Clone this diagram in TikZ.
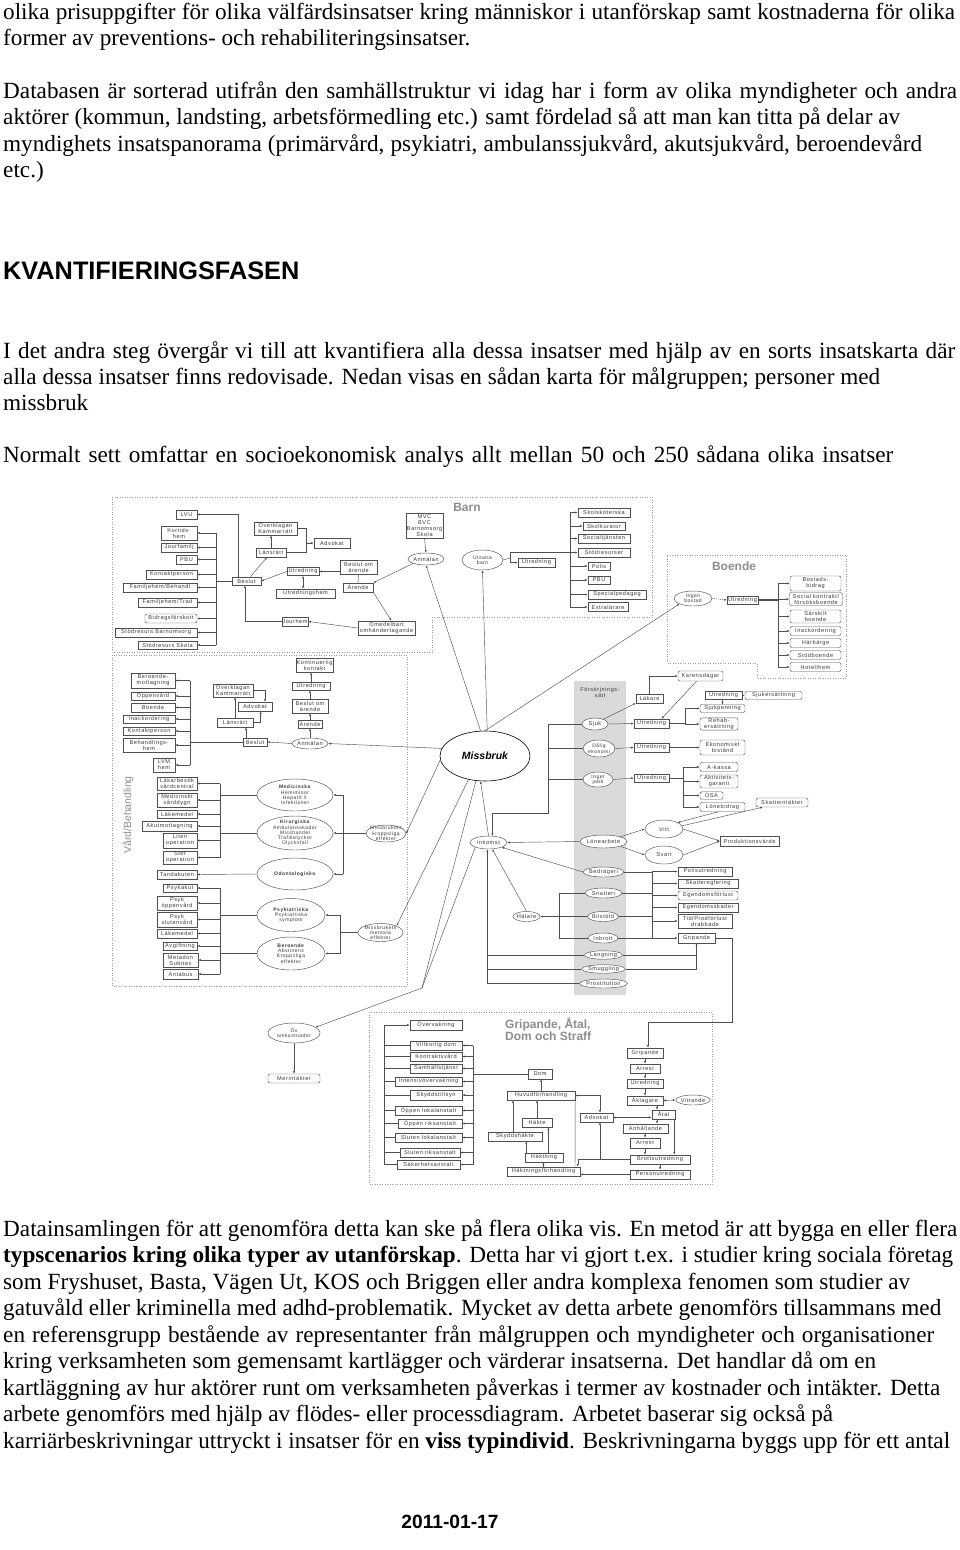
\documentclass[tikz,border=0pt]{standalone}
\usepackage{fontspec}
\setmainfont{Liberation Serif}
\newfontfamily\arialf{Liberation Sans}
\newfontfamily\dfont[LetterSpace=10]{Liberation Sans}
\usetikzlibrary{arrows.meta,shapes.geometric}
\definecolor{lc}{HTML}{505050}
\definecolor{tc}{HTML}{3A3A3A}
\definecolor{ttl}{HTML}{8E8E8E}
\definecolor{gcol}{HTML}{DADADA}
\definecolor{pan}{HTML}{9A9A9A}
\newcommand{\linefit}[2]{\makebox[#1pt][s]{#2}}
\tikzset{
  bw/.style={minimum width=#1pt},
  bh/.style={minimum height=#1pt},
  box/.style={draw=lc, line width=0.45pt, fill=white, inner sep=0.5pt, text=tc, align=center, font=\dfont\fontsize{5.6}{6}\selectfont},
  rbox/.style={box, rounded corners=2pt},
  ell/.style={box, ellipse, inner sep=0pt},
  lbl/.style={text=tc, align=center, inner sep=0pt, font=\dfont\fontsize{5}{5.3}\selectfont},
  ln/.style={draw=lc, line width=0.45pt},
  arr/.style={ln, -{Latex[length=2.6pt,width=2pt]}},
  arrb/.style={ln, {Latex[length=2.6pt,width=2pt]}-{Latex[length=2.6pt,width=2pt]}},
  panel/.style={draw=pan, line width=0.5pt, dotted},
  body/.style={anchor=base west, inner sep=0pt, font=\fontsize{23.2}{26}\selectfont},
  head/.style={anchor=base west, inner sep=0pt, font=\arialf\bfseries\fontsize{25.3}{25}\selectfont},
  ttlf/.style={text=ttl, inner sep=0pt, font=\arialf\bfseries\fontsize{12}{10.5}\selectfont},
}
\begin{document}
\begin{tikzpicture}[x=1pt,y=-1pt]
\useasboundingbox (0,0) rectangle (960,1550);
\fill[white] (0,0) rectangle (960,1550);

% ---------------- body text ----------------
\node[body] (t1) at (3,19) {\linefit{952}{olika prisuppgifter för olika välfärdsinsatser kring människor i utanförskap samt kostnaderna för olika}};
\node[body] (t2) at (3,45) {former av preventions- och rehabiliteringsinsatser.};
\node[body] (t3) at (3,98) {\linefit{954}{Databasen är sorterad utifrån den samhällstruktur vi idag har i form av olika myndigheter och andra}};
\node[body] (t4) at (3,124) {\linefit{897}{aktörer (kommun, landsting, arbetsförmedling etc.) samt fördelad så att man kan titta på delar av}};
\node[body] (t5) at (3,151) {\linefit{919}{myndighets insatspanorama (primärvård, psykiatri, ambulanssjukvård, akutsjukvård, beroendevård}};
\node[body] (t6) at (3,177) {etc.)};
\node[head] (t7) at (3,279) {KVANTIFIERINGSFASEN};
\node[body] (t8) at (3,358) {\linefit{952}{I det andra steg övergår vi till att kvantifiera alla dessa insatser med hjälp av en sorts insatskarta där}};
\node[body] (t9) at (3,384) {\linefit{877}{alla dessa insatser finns redovisade. Nedan visas en sådan karta för målgruppen; personer med}};
\node[body] (t10) at (3,410) {missbruk};
\node[body] (t11) at (3,462) {\linefit{890}{Normalt sett omfattar en socioekonomisk analys allt mellan 50 och 250 sådana olika insatser}};

\node[body] (b1) at (3,1236) {\linefit{954}{Datainsamlingen för att genomföra detta kan ske på flera olika vis. En metod är att bygga en eller flera}};
\node[body] (b2) at (3,1262) {\linefit{950}{\textbf{typscenarios kring olika typer av utanförskap}. Detta har vi gjort t.ex. i studier kring sociala företag}};
\node[body] (b3) at (3,1289) {\linefit{907}{som Fryshuset, Basta, Vägen Ut, KOS och Briggen eller andra komplexa fenomen som studier av}};
\node[body] (b4) at (3,1315) {\linefit{938}{gatuvåld eller kriminella med adhd-problematik. Mycket av detta arbete genomförs tillsammans med}};
\node[body] (b5) at (3,1342) {\linefit{931}{en referensgrupp bestående av representanter från målgruppen och myndigheter och organisationer}};
\node[body] (b6) at (3,1368) {\linefit{873}{kring verksamheten som gemensamt kartlägger och värderar insatserna. Det handlar då om en}};
\node[body] (b7) at (3,1395) {\linefit{937}{kartläggning av hur aktörer runt om verksamheten påverkas i termer av kostnader och intäkter. Detta}};
\node[body] (b8) at (3,1421) {\linefit{830}{arbete genomförs med hjälp av flödes- eller processdiagram. Arbetet baserar sig också på}};
\node[body] (b9) at (3,1448) {\linefit{947}{karriärbeskrivningar uttryckt i insatser för en \textbf{viss typindivid}. Beskrivningarna byggs upp för ett antal}};
\node[anchor=base, inner sep=0pt, font=\arialf\bfseries\fontsize{19.2}{19}\selectfont] (date) at (450,1528) {2011-01-17};

% ---------------- panels ----------------
\draw[panel] (112,497) -- (652,497) -- (652,617) -- (432,617) -- (432,652) -- (112,652) -- cycle;
\draw[panel] (112,655) rectangle (407,986);
\draw[panel] (667,555) -- (846,555) -- (846,678) -- (757,678) -- (757,663) -- (667,663) -- cycle;
\draw[panel] (369,1012) rectangle (712,1184);
\fill[gcol] (574,681) rectangle (626,995);

\node[ttlf] (barn) at (467,507) {Barn};
\node[ttlf] (boendet) at (734,566) {Boende};
\node[ttlf, anchor=west, align=left] (gtitle) at (505,1029) {Gripande, Åtal,\\Dom och Straff};
\node[text=ttl, rotate=90, font=\arialf\fontsize{10.5}{10.5}\selectfont, inner sep=0pt] (vard) at (128,815) {Vård/Behandling};
\node[inner sep=0pt, text=tc, font=\dfont\fontsize{5.6}{6}\selectfont, align=center] (fors) at (600,692) {Försörjnings-\\sätt};

% ---------------- Barn panel ----------------
\node[box,bw=21,bh=9] (lvu) at (186.5,514.5) {LVU};
\node[box,bw=36,bh=14] (kort) at (179,533) {Kortids-\\hem};
\node[box,bw=36,bh=9] (jourf) at (179,547.5) {Jourfamilj};
\node[box,bw=21,bh=9] (pbu1) at (186.5,559.5) {PBU};
\node[box,bw=51,bh=9] (kontakt1) at (171.5,574.5) {Kontaktperson};
\node[box,bw=74,bh=9] (famb) at (160,587.5) {Familjehem/Behandl};
\node[box,bw=59,bh=9] (famt) at (167.5,602.5) {Familjehem/Trad};
\node[rbox,bw=52,bh=9] (bidrag) at (171,618.5) {Bidragsförskott};
\node[box,bw=82,bh=9] (stodb) at (156,632.5) {Stödresurs Barnomsorg};
\node[box,bw=59,bh=8.5] (stods) at (167.5,645) {Stödresurs Skola};
\node[box,bw=29,bh=8.5] (beslut1) at (246.5,581) {Beslut};
\node[box,bw=30,bh=9] (lans1) at (271,552.5) {Länsrätt};
\node[box,bw=43,bh=13] (overk1) at (275.5,528.5) {Överklagan\\Kammarrätt};
\node[box,bw=36,bh=10] (advokat1) at (332,543) {Advokat};
\node[box,bw=32,bh=8] (utr1) at (303,571.5) {Utredning};
\node[box,bw=59,bh=9] (utrhem) at (305.5,593.5) {Utredningshem};
\node[box,bw=37,bh=14] (beslutom1) at (358.5,567) {Beslut om\\ärende};
\node[box,bw=30,bh=9] (arende1) at (358,587.5) {Ärende};
\node[ell,bw=32,bh=12] (anm1) at (426,559) {Anmälan};
\node[box,bw=35,bh=25] (mvc) at (424.5,525.5) {MVC\\BVC\\Barnomsorg\\Skola};
\node[box,bw=57,bh=14] (omed) at (386.5,628) {Omedelbart\\omhändertagande};
\node[box,bw=26,bh=9] (jourhem) at (295,621.5) {Jourhem};
\node[ell,bw=41,bh=20,label={[lbl]center:{Utsatta\\barn}}] (utsatta) at (482.5,560) {};
\node[box,bw=37,bh=9] (utr2) at (536.5,562.5) {Utredning};
\node[box,bw=52,bh=9] (skolsk) at (604,512.5) {Skolsköterska};
\node[box,bw=42,bh=8.5] (skolkur) at (604,526) {Skolkurator};
\node[box,bw=52,bh=9] (socialtj) at (604,538.5) {Socialtjänsten};
\node[box,bw=52,bh=9] (stodres) at (604,552.5) {Stödresurser};
\node[box,bw=22,bh=8.5] (polis) at (599,566) {Polis};
\node[box,bw=22,bh=8.5] (pbu2) at (599,580) {PBU};
\node[box,bw=58,bh=9] (specped) at (617,594.5) {Specialpedagog};
\node[box,bw=40,bh=9] (extral) at (608,607) {Extralärare};

% ---------------- Boende ----------------
\node[ell,bw=38,bh=15,label={[lbl]center:{Ingen\\bostad}}] (ingen) at (693,598.5) {};
\node[box,bw=31,bh=8.5] (utr3) at (742.5,600) {Utredning};
\node[rbox,bw=51,bh=15] (bostads) at (815.5,583.5) {Bostads-\\bidrag};
\node[rbox,bw=53,bh=13] (socialk) at (816,599) {Social kontrakt/\\försöksboende};
\node[rbox,bw=51,bh=13] (sarskilt) at (815.5,616.5) {Särskilt\\boende};
\node[rbox,bw=51,bh=9] (inack2) at (815.5,631) {Inackordering};
\node[rbox,bw=51,bh=9] (harb) at (815.5,643) {Härbärge};
\node[rbox,bw=51,bh=9] (stodboende) at (815.5,655) {Stödboende};
\node[rbox,bw=51,bh=9] (hotell) at (815.5,667) {Hotellhem};

% ---------------- Left middle panel ----------------
\node[box,bw=44,bh=15] (berm) at (153,680.5) {Beroende-\\mottagning};
\node[box,bw=44,bh=8.5] (oppen) at (153,696) {Öppenvård};
\node[box,bw=44,bh=8.5] (boende2) at (153,707.5) {Boende};
\node[box,bw=52,bh=8.5] (inack1) at (149,719) {Inackordering};
\node[box,bw=52,bh=8.5] (kontakt2) at (149,731) {Kontaktperson};
\node[box,bw=52,bh=14] (behhem) at (149,745) {Behandlings-\\hem};
\node[box,bw=22,bh=14] (lvm) at (164,765) {LVM\\hem};
\node[box,bw=24,bh=8.5] (beslut2) at (255,742) {Beslut};
\node[box,bw=40,bh=13] (overk2) at (233,690.5) {Överklagan\\Kammarrätt};
\node[box,bw=34,bh=9] (advokat2) at (255,706.5) {Advokat};
\node[box,bw=36,bh=9] (lans2) at (235,722.5) {Länsrätt};
\node[box,bw=35,bh=14] (kontin) at (314.5,665) {Kontinuerlig\\kontakt};
\node[box,bw=38,bh=8] (utr8) at (311,686) {Utredning};
\node[box,bw=36,bh=14] (beslutom2) at (310,706) {Beslut om\\ärende};
\node[box,bw=24,bh=8] (arende2) at (310,724) {Ärende};
\node[ell,bw=36,bh=11] (anm2) at (310,743.5) {Anmälan};

% Vård
\node[box,bw=40,bh=13] (lakbes) at (177,783.5) {Läkarbesök\\vårdcentral};
\node[box,bw=40,bh=14] (medvard) at (177,800) {Medicinskt\\vårddygn};
\node[box,bw=40,bh=8.5] (lakmed1) at (177,814) {Läkemedel};
\node[box,bw=55,bh=9.5] (akut) at (169.5,826) {Akutmottagning};
\node[box,bw=34,bh=15] (liten) at (180,840.5) {Liten\\operation};
\node[box,bw=34,bh=13] (stor) at (180,857.5) {Stor\\operation};
\node[box,bw=40,bh=9] (tand) at (177,874.5) {Tandakuten};
\node[box,bw=34,bh=8] (psykakut) at (180,888) {Psykakut};
\node[box,bw=40,bh=14] (psykopp) at (177,903) {Psyk\\öppenvård};
\node[box,bw=40,bh=15] (psykslut) at (177,919.5) {Psyk\\slutenvård};
\node[box,bw=40,bh=9] (lakmed2) at (177,933.5) {Läkemedel};
\node[box,bw=34,bh=8] (avgift) at (180,946) {Avgiftning};
\node[box,bw=35,bh=14] (metadon) at (180.5,960) {Metadon\\Subitex};
\node[box,bw=35,bh=10] (antabus) at (180.5,974) {Antabus};

\node[ell,bw=76,bh=32,label={[lbl]center:{\textbf{Medicinska}\\Hemiminor\\Hepatit X\\Infektioner}}] (med) at (295,795) {};
\node[ell,bw=76,bh=34,label={[lbl]center:{\textbf{Kirurgiska}\\Ambulansskador\\Misshandel\\Trafikolyckor\\Olycksfall}}] (kir) at (295,833) {};
\node[ell,bw=76,bh=32,label={[lbl]center:{\textbf{Odontologiska}}}] (odont) at (295,874) {};
\node[ell,bw=68,bh=33,label={[lbl]center:{\textbf{Psykiatriska}\\Psykiatriska\\symptom}}] (psykia) at (291,915) {};
\node[ell,bw=68,bh=33,label={[lbl]center:{\textbf{Beroende}\\Abstinens\\Kroppsliga\\effekter}}] (beroende) at (291,953.5) {};
\node[ell,bw=40,bh=17,label={[lbl]center:{Missbrukets\\kroppsliga\\effekter}}] (kropp) at (386,833.5) {};
\node[ell,bw=45,bh=18,label={[lbl]center:{Missbrukets\\mentala\\effekter}}] (mental) at (380.5,932.5) {};

% ---------------- Missbruk & Försörjning ----------------
\node[ell,bw=90,bh=50,draw=black,line width=0.6pt,text=black,font=\arialf\bfseries\itshape\fontsize{10.5}{10.5}\selectfont] (missbruk) at (485,756) {Missbruk};
\node[ell,bw=26,bh=12] (sjuk) at (595,724) {Sjuk};
\node[ell,bw=32,bh=17,label={[lbl]center:{Dålig\\ekonomi}}] (dalig) at (599,748.5) {};
\node[ell,bw=30,bh=15,label={[lbl]center:{Inget\\jobb}}] (inget) at (598,779.5) {};
\node[ell,bw=37,bh=13] (lonearb) at (603.5,841.5) {Lönearbete};
\node[ell,bw=37,bh=10] (bedrageri) at (603.5,872) {Bedrägeri};
\node[ell,bw=37,bh=10] (snatteri) at (603.5,893) {Snatteri};
\node[ell,bw=30,bh=10] (bilstold) at (603,916.5) {Bilstöld};
\node[ell,bw=30,bh=10] (inbrott) at (603,938) {Inbrott};
\node[ell,bw=37,bh=8.5] (langning) at (603.5,955) {Langning};
\node[ell,bw=37,bh=8.5] (smuggling) at (603.5,969) {Smuggling};
\node[ell,bw=37,bh=9] (prost) at (603.5,983.5) {Prostitution};
\node[ell,bw=37,bh=13] (inkomst) at (488.5,842.5) {inkomst};
\node[ell,bw=27,bh=10] (halare) at (526.5,916.5) {Hälare};
\node[ell,bw=52,bh=20,label={[lbl]center:{Öv\\omkostnader}}] (ovomk) at (294,1033) {};
\node[rbox,bw=52,bh=9] (merint) at (294,1078.5) {Merintäkter};

\node[box,bw=27,bh=9] (lakare) at (649.5,698.5) {Läkare};
\node[rbox,bw=45,bh=10] (karens) at (700.5,676) {Karensdagar};
\node[box,bw=35,bh=9] (utr4) at (651.5,723.5) {Utredning};
\node[rbox,bw=45,bh=8] (sjukp) at (722.5,708.5) {Sjukpenning};
\node[rbox,bw=38,bh=12] (rehab) at (719,724) {Rehab-\\ersättning};
\node[box,bw=37,bh=8] (utr5) at (723.5,695.5) {Utredning};
\node[rbox,bw=57,bh=8] (sjukers) at (773.5,695.5) {Sjukersättning};
\node[box,bw=35,bh=9] (utr6) at (651.5,747.5) {Utredning};
\node[rbox,bw=45,bh=15] (ekon) at (722.5,747.5) {Ekonomiskt\\bistånd};
\node[box,bw=35,bh=8] (utr7) at (651.5,778) {Utredning};
\node[rbox,bw=38,bh=9] (akassa) at (719,767) {A-kassa};
\node[rbox,bw=38,bh=13] (aktiv) at (719,781.5) {Aktivitets-\\garanti};
\node[rbox,bw=23,bh=7.5] (osa) at (711.5,795.5) {OSA};
\node[rbox,bw=45,bh=9] (lonebid) at (722.5,807) {Lönebidrag};
\node[rbox,bw=52,bh=9] (skatt) at (782,802.5) {Skatteintäkter};
\node[ell,bw=38,bh=18] (vitt) at (664,829) {Vitt};
\node[ell,bw=38,bh=18] (svart) at (664,855) {Svart};
\node[box,bw=59,bh=10] (prod) at (749.5,841) {Produktionsvärde};
\node[box,bw=54,bh=9] (polisutr) at (705,871.5) {Polisutredning};
\node[box,bw=60,bh=9] (skadereg) at (708,883.5) {Skadereglering};
\node[rbox,bw=60,bh=9] (egendf) at (708,895.5) {Egendomsförlust};
\node[box,bw=60,bh=9] (egends) at (708,907.5) {Egendomsskador};
\node[box,bw=54,bh=14] (tidprod) at (705,921) {Tid/Prodförlust\\drabbade};
\node[box,bw=37,bh=10] (grip1) at (696.5,938) {Gripande};

% ---------------- bottom panel ----------------
\node[box,bw=52,bh=10] (overv) at (436,1025) {Övervakning};
\node[box,bw=52,bh=9] (villk) at (436,1045.5) {Villkorlig dom};
\node[box,bw=52,bh=9] (kontr) at (436,1056.5) {Kontraktsvård};
\node[box,bw=52,bh=9] (samh) at (436,1068.5) {Samhällstjänst};
\node[box,bw=67,bh=9] (intens) at (428.5,1081.5) {Intensivövervakning};
\node[box,bw=52,bh=10] (skydd) at (436,1095) {Skyddstillsyn};
\node[box,bw=67,bh=9] (opplok) at (428.5,1110.5) {Öppen lokalanstalt};
\node[box,bw=64,bh=9] (oppriks) at (430,1123.5) {Öppen riksanstalt};
\node[box,bw=67,bh=9] (slutlok) at (428.5,1137.5) {Sluten lokalanstalt};
\node[box,bw=60,bh=9] (slutriks) at (430,1152.5) {Sluten riksanstalt};
\node[box,bw=63,bh=9] (saker) at (428.5,1164.5) {Säkerhetsanstalt};
\node[box,bw=24,bh=10] (dom) at (540,1074) {Dom};
\node[box,bw=68,bh=9] (huvud) at (541,1095.5) {Huvudförhandling};
\node[box,bw=30,bh=9] (hakte) at (537,1122.5) {Häkte};
\node[box,bw=54,bh=9] (skyddsh) at (515,1136.5) {Skyddshäkte};
\node[box,bw=38,bh=9] (hakting) at (544,1157.5) {Häktning};
\node[box,bw=73,bh=9] (hfh) at (543.5,1171.5) {Häktningsförhandling};
\node[box,bw=33,bh=9] (advokat3) at (596.5,1117.5) {Advokat};
\node[box,bw=36,bh=10] (grip2) at (645,1053) {Gripande};
\node[box,bw=30,bh=9] (arrest1) at (645,1068.5) {Arrest};
\node[box,bw=36,bh=9] (utr9) at (645,1083.5) {Utredning};
\node[box,bw=36,bh=9] (aklag) at (645,1100.5) {Åklagare};
\node[ell,bw=30,bh=10] (vittande) at (693,1100) {Vittande};
\node[box,bw=23,bh=9] (atal) at (663.5,1114.5) {Åtal};
\node[box,bw=45,bh=9] (anhall) at (645.5,1128.5) {Anhållande};
\node[box,bw=30,bh=10] (arrest2) at (645,1143) {Arrest};
\node[box,bw=60,bh=9] (brott) at (660,1159.5) {Brottsutredning};
\node[box,bw=60,bh=9] (pers) at (660,1174.5) {Personutredning};

% ---------------- bus coordinates ----------------
\coordinate (bxA) at (216,0);
\coordinate (bxB) at (570,0);
\coordinate (bxC) at (778,0);
\coordinate (bxD) at (190,0);
\coordinate (bxE) at (220,0);
\coordinate (bxF) at (343,0);
\coordinate (bxG) at (340,0);
\coordinate (bxH) at (548,0);
\coordinate (bxI) at (685,0);
\coordinate (bxJ) at (683,0);
\coordinate (bxK) at (652,0);
\coordinate (bxL) at (559,0);
\coordinate (bxM) at (384,0);
\coordinate (bxN) at (473,0);
\coordinate (uj) at (510,558);
\coordinate (adj) at (306,543);
\coordinate (ovj) at (422,988);

% ---------------- connectors: Barn ----------------
\draw[arr] ([xshift=-8.5]beslut1.north) |- (lvu.east);
\draw[ln] (bxA |- kort.east) -- (bxA |- stods.east);
\draw[ln] (beslut1.west) -- (bxA |- beslut1.west);
\foreach \n in {kort,jourf,pbu1,kontakt1,famb,famt,bidrag,stodb,stods} \draw[arr] (bxA |- \n.east) -- (\n.east);
\draw[arr] ([xshift=4]beslut1.north) -- ([xshift=-4]lans1.south);
\draw[arr] (lans1.north) -- (lans1.north |- overk1.south);
\draw[ln] (overk1.east) -| (adj);
\draw[ln] (lans1.east) -| (adj);
\draw[arr] (adj) -- (advokat1.west);
\draw[arr] (utr1.west) -- (beslut1.east);
\draw[arrb] (utr1.south) -- (utr1.south |- utrhem.north);
\draw[arr] (beslutom1.west |- utr1.east) -- (utr1.east);
\draw[ln] (arende1.north) -- (beslutom1.south);
\draw[arr] (anm1.south west) -- (arende1.north east);
\draw[arr] (mvc.south) -- (anm1.north);
\draw[arr] (arende1.south east) -- ([xshift=5]omed.north);
\draw[arr] (omed.west) -- (jourhem.east);
\draw[arr] (jourhem.west) -| ([xshift=-1.5]beslut1.south);
\draw[ln] (utsatta.east) -- (uj);
\draw[ln] (uj |- stodres.west) -- (uj |- utr2.west);
\draw[arr] (uj |- utr2.west) -- (utr2.west);
\draw[ln] (uj |- stodres.west) -- (bxB |- stodres.west);
\draw[ln] (bxB |- skolsk.west) -- (bxB |- extral.west);
\foreach \n in {skolsk,skolkur,socialtj,stodres,polis,pbu2,specped,extral} \draw[arr] (bxB |- \n.west) -- (\n.west);

% Boende
\draw[arr, dash pattern=on 1pt off 1pt] (ingen.east) -- (utr3.west);
\draw[ln, line width=1.1pt] (utr3.east) -- (bxC |- utr3.east);
\draw[ln] (bxC |- bostads.west) -- (bxC |- hotell.west);
\foreach \n in {bostads,socialk,sarskilt,inack2,harb,stodboende,hotell} \draw[arr] (bxC |- \n.west) -- (\n.west);

% Missbruk rays
\draw[arr] (missbruk.100) -- (anm1.south);
\draw[arr] (missbruk.85) -- (utsatta.south);
\draw[arr] (missbruk.north) -- (ingen.south west);
\draw[arr] (missbruk.185) -- (kropp.east);
\draw[arr] (missbruk.235) -- (mental.north east);
\draw[arr] (missbruk.170) -- (anm2.east);
\draw[arr] (inkomst.north) -- (missbruk.260);
\draw[ln] (missbruk.250) -- (ovj);
\draw[arr] (inkomst.south west) -- (ovj) -- (ovomk.15);
\draw[arr] (ovomk.south) -- (merint.north);

% left middle panel
\draw[ln] (bxD |- berm.east) -- (bxD |- lvm.east);
\foreach \n in {berm,oppen,boende2,inack1,kontakt2,behhem,lvm} \draw[arr] (bxD |- \n.east) -- (\n.east);
\draw[ln] (beslut2.west) -- (bxD |- beslut2.west);
\draw[arr] ([xshift=-9]beslut2.north) -- ([xshift=-9]beslut2.north |- lans2.south);
\draw[arr] (lans2.north) -- (lans2.north |- overk2.south);
\draw[arr] (lans2.east) -| ([xshift=5.7]advokat2.south);
\draw[arr] (overk2.east) -| ([xshift=10]advokat2.north);
\draw[arr] (anm2.west) -- (beslut2.east);
\draw[arr] (anm2.north) -- (arende2.south);
\draw[arr] (arende2.north) -- (arende2.north |- beslutom2.south);
\draw[arr] (beslutom2.north) -- (beslutom2.north |- utr8.south);
\draw[arr] (utr8.north) -- (utr8.north |- kontin.south);

% Vård
\draw[ln] (bxE |- lakbes.east) -- (bxE |- stor.east);
\foreach \n in {lakbes,medvard,lakmed1,akut,liten,stor} \draw[arr] (bxE |- \n.east) -- (\n.east);
\draw[ln] (med.west) -- (bxE |- med.west);
\draw[ln] (kir.west) -- (bxE |- kir.west);
\draw[arr] (odont.west) -- (tand.east);
\draw[ln] (bxE |- psykakut.east) -- (bxE |- antabus.east);
\foreach \n in {psykakut,psykopp,psykslut,lakmed2,avgift,metadon,antabus} \draw[arr] (bxE |- \n.east) -- (\n.east);
\draw[ln] (psykia.west) -- (bxE |- psykia.west);
\draw[ln] (beroende.west) -- (bxE |- beroende.west);
\draw[ln] (kropp.west) -- (bxF |- kropp.west);
\draw[ln] (bxF |- med.east) -- (bxF |- odont.east);
\foreach \n in {med,kir,odont} \draw[arr] (bxF |- \n.east) -- (\n.east);
\draw[ln] (mental.west) -- (bxG |- mental.west);
\draw[ln] (bxG |- psykia.east) -- (bxG |- beroende.east);
\foreach \n in {psykia,beroende} \draw[arr] (bxG |- \n.east) -- (\n.east);

% Försörjning
\draw[arr] (sjuk.west) -- (bxH |- sjuk.west) -- (548,813) -| (inkomst.60);
\draw[ln] (dalig.west) -- (bxH |- dalig.west);
\draw[ln] (inget.west) -- (bxH |- inget.west);
\draw[arr] (sjuk.east) -- (utr4.west);
\draw[arr] (sjuk.30) -- (lakare.south west);
\draw[arr] (lakare.north) |- (karens.west);
\draw[arr] ([xshift=-4]karens.south) -- ([xshift=10]utr4.north);
\draw[ln] (utr4.east) -- (bxI |- utr4.east);
\draw[arr] (bxI |- utr4.east) |- (sjukp.west);
\draw[arr] (bxI |- rehab.west) -- (rehab.west);
\draw[arr] (sjukp.north) -- (sjukp.north |- utr5.south);
\draw[arr] (utr5.east) -- (sjukers.west);
\draw[arr] (dalig.east) -- (utr6.west);
\draw[arr] (utr6.east) -- (ekon.west);
\draw[arr] (inget.east) -- (utr7.west);
\draw[ln] (utr7.east) -- (bxJ |- utr7.east);
\draw[ln] (bxJ |- akassa.west) -- (bxJ |- lonebid.west);
\foreach \n in {akassa,aktiv,osa,lonebid} \draw[arr] (bxJ |- \n.west) -- (\n.west);
\draw[arr] ([xshift=-4]lonebid.south) -- (vitt.north east);
\draw[arr] (vitt.10) -- ([xshift=7]skatt.south west);
\draw[arr] (vitt.east) -- (prod.west);
\draw[arr] (svart.east) -- (prod.west);
\draw[arr] (lonearb.north east) -- (vitt.west);
\draw[arr] (lonearb.south east) -- (svart.west);
\draw[arr] (lonearb.west) -- (inkomst.east);
\draw[arr] (bedrageri.west) -- (inkomst.south east);
\draw[ln] (bedrageri.east) -- (bxK |- bedrageri.east);
\draw[ln] (snatteri.east) -- (bxK |- snatteri.east);
\draw[ln, line width=1pt] (bilstold.east) -- (bxK |- bilstold.east);
\draw[ln] (inbrott.east) -- (bxK |- inbrott.east);
\draw[ln] (bxK |- polisutr.west) -- (bxK |- grip1.west);
\foreach \n in {polisutr,skadereg,egendf,egends,tidprod,grip1} \draw[arr] (bxK |- \n.west) -- (\n.west);
\draw[ln] (snatteri.west) -- (bxL |- snatteri.west) -- (bxL |- inbrott.west) -- (inbrott.west);
\draw[ln, line width=1pt] (bilstold.west) -- (bxL |- bilstold.west);
\draw[arr] (bxL |- halare.east) -- (halare.east);
\draw[arr] (halare.north) -- (inkomst.-60);
\draw[arr] (prost.west) -| (inkomst.-100);
\draw[ln] (langning.west) -- (langning.west -| inkomst.-100);
\draw[ln] (smuggling.west) -- (smuggling.west -| inkomst.-100);
\draw[arr] (langning.east) -| (grip1.south);
\draw[ln] (smuggling.east) -| (langning.east -| grip1.south);
\draw[arr] (grip1.east) -- (732,938) -- (732,1022) -| ([xshift=3]grip2.north);

% bottom panel
\draw[ln] (bxM |- overv.west) -- (bxM |- saker.west);
\draw[arr] (bxM |- overv.west) -- (overv.west);
\foreach \n in {villk,kontr,samh,intens,skydd,opplok,oppriks,slutlok,slutriks,saker} \draw[ln] (bxM |- \n.west) -- (\n.west);
\draw[ln] (bxN |- villk.east) -- (bxN |- saker.east);
\foreach \n in {villk,kontr,samh,intens,skydd,opplok,oppriks,slutlok,slutriks,saker} \draw[arr] (bxN |- \n.east) -- (\n.east);
\draw[ln] (dom.west) -- (bxN |- dom.west);
\draw[arr] (huvud.north) -- (huvud.north |- dom.south);
\draw[arr] (hakte.north) -- (hakte.north |- huvud.south);
\draw[arr] ([xshift=-2]skyddsh.north) -- ([xshift=-2]skyddsh.north |- huvud.south);
\draw[arr] ([xshift=4.3]hakting.north) -- ([xshift=4.3]hakting.north |- hakte.south);
\draw[arr] ([xshift=1.5]hakting.north west) -- ([xshift=1.5]hakting.north west |- skyddsh.south);
\draw[arr] (hfh.north) -- (hfh.north |- hakting.south);
\draw[ln] ([xshift=31.5]hfh.north) -- (huvud.south east);
\draw[arrb] (huvud.east) -| ([xshift=3.5]advokat3.north);
\draw[arr] (brott.west) -| ([xshift=-2.5]hfh.north east);
\draw[arr] ([xshift=3.5]advokat3.south |- brott.west) -- ([xshift=3.5]advokat3.south);
\draw[arr] (pers.west) -- (pers.west -| hfh.east);
\draw[arrb] (advokat3.east) -- (advokat3.east -| atal.west);
\draw[arr] (grip2.south) -- (arrest1.north);
\draw[arr] (arrest1.south) -- (utr9.north);
\draw[arr] (utr9.south) -- (aklag.north);
\draw[arr] ([xshift=12]aklag.south) -- ([xshift=12]aklag.south |- atal.north);
\draw[arr] ([xshift=-6.5]atal.south) -- ([xshift=-6.5]atal.south |- anhall.north);
\draw[arr] (anhall.south -| arrest2.north) -- (arrest2.north);
\draw[arr] (arrest2.south) -- (arrest2.south |- brott.north);
\draw[arr] ([xshift=-1]atal.south east) -- ([xshift=-1]atal.south east |- brott.north);
\draw[arr] (brott.south) -- (pers.north);
\draw[arrb] (vittande.west) -- (aklag.east);
\end{tikzpicture}
\end{document}
